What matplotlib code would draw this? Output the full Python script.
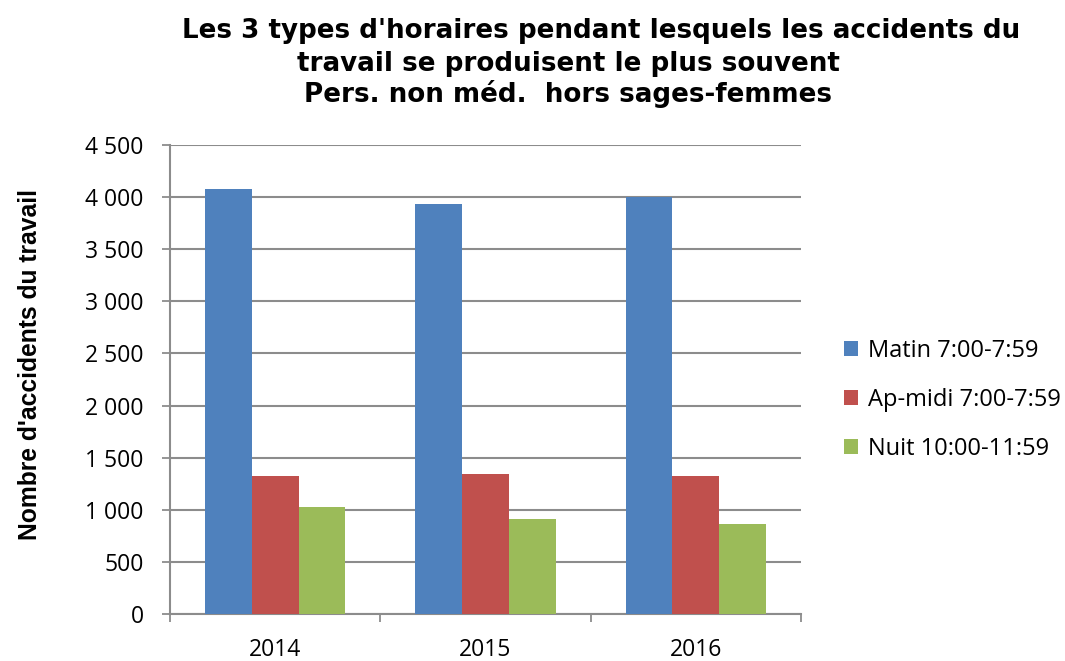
import matplotlib
matplotlib.use("Agg")
import matplotlib.pyplot as plt
import numpy as np
from matplotlib.patches import Patch

years = ["2014", "2015", "2016"]
series_names = ["Matin 7:00-7:59", "Ap-midi 7:00-7:59", "Nuit 10:00-11:59"]
matin = [4080, 3930, 4005]
apmidi = [1328, 1344, 1328]
nuit = [1028, 916, 868]
colors = ["#4F81BD", "#C0504D", "#9BBB59"]
yticks = [0, 500, 1000, 1500, 2000, 2500, 3000, 3500, 4000, 4500]
ytick_labels = ["0", "500", "1 000", "1 500", "2 000", "2 500", "3 000", "3 500", "4 000", "4 500"]
title_lines = ["Les 3 types d'horaires pendant lesquels les accidents du",
               "travail se produisent le plus souvent",
               "Pers. non méd.  hors sages-femmes"]

plt.rcParams['font.family'] = ['Open Sans', 'DejaVu Sans']

W, H = 1065, 661
fig = plt.figure(figsize=(W/100, H/100), dpi=100)
ax = fig.add_axes([170/W, 1-614/H, 631/W, 469/H])

x = np.arange(len(years))
w = 1/4.5
for i, (vals, c, name) in enumerate(zip([matin, apmidi, nuit], colors, series_names)):
    ax.bar(x + (i-1)*w, vals, width=w, color=c, label=name, zorder=3)

grid_c = "#8c8c8c"
ax.set_xlim(-0.5, len(years)-0.5)
ax.set_ylim(0, 4500)
ax.set_yticks(yticks)
ax.set_yticklabels(ytick_labels, fontsize=16.5)
ax.yaxis.grid(True, color=grid_c, linewidth=1.5, zorder=0)
ax.set_axisbelow(True)

ax.set_xticks(x)
ax.set_xticklabels(years, fontsize=16.5)
ax.tick_params(axis='x', length=0, pad=17)
ax.set_xticks(np.arange(-0.5, len(years)), minor=True)
ax.tick_params(axis='x', which='minor', length=6, width=1.3, color=grid_c)
ax.tick_params(axis='y', length=6, width=1.3, color=grid_c, pad=13)

for s in ["top", "right"]:
    ax.spines[s].set_visible(False)
for s in ["left", "bottom"]:
    ax.spines[s].set_color(grid_c)
    ax.spines[s].set_linewidth(1.5)

fig.text(30/W, 1-365/H, "Nombre d'accidents du travail", rotation=90,
         fontsize=17.7, fontweight='bold', ha='center', va='center',
         family=['Liberation Sans', 'DejaVu Sans'])

title_x = [601, 568, 568]
title_base = [38, 71, 102]
for t, tx, ty in zip(title_lines, title_x, title_base):
    fig.text(tx/W, 1-ty/H, t, fontsize=18.8, fontweight='bold', ha='center',
             va='baseline', family=['DejaVu Sans'])

handles = [Patch(facecolor=c, label=n) for c, n in zip(colors, series_names)]
fig.legend(handles=handles, loc='center left', bbox_to_anchor=(844/W, 1-400/H),
           frameon=False, fontsize=17, handlelength=0.6, handleheight=0.6,
           handletextpad=0.4, labelspacing=1.06, borderpad=0, borderaxespad=0)

fig.savefig("out.png", dpi=100)
